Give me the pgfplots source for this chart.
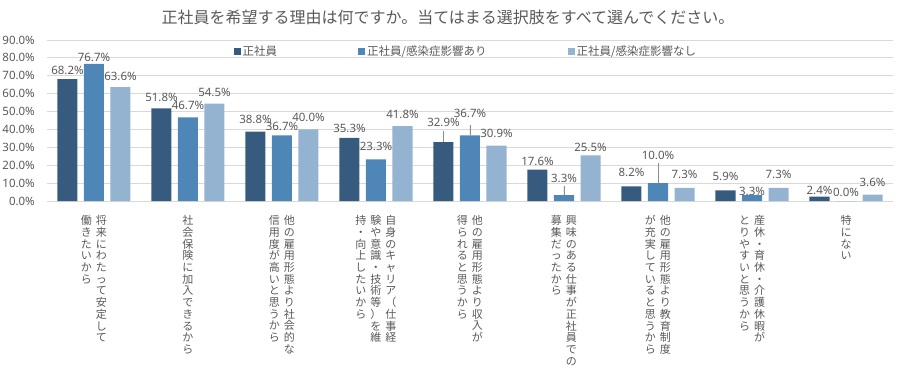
\documentclass[border=0pt]{standalone}
\usepackage{pgfplots}
\pgfplotsset{compat=1.18}
\usepackage{pgfplotstable}
\usepackage{fontspec}
\setmainfont{Noto Sans}
\newfontfamily\jp{Noto Sans CJK JP}
\definecolor{c1}{HTML}{375A7F}
\definecolor{c2}{HTML}{4E86B8}
\definecolor{c3}{HTML}{94B3D1}
\definecolor{tg}{HTML}{595959}
\definecolor{gl}{HTML}{D9D9D9}
\definecolor{ld}{HTML}{8C8C8C}

\ExplSyntaxOn
\NewDocumentCommand\vcol{m}{
  \vtop{\baselineskip=11.7pt \lineskiplimit=-20pt \lineskip=0pt
    \tl_map_inline:nn {#1} { \hbox_to_wd:nn {11pt} { \hss ##1 \hss } } }
}
\ExplSyntaxOff
\newcommand\vA[1]{\hbox{\vcol{#1}}}
\newcommand\vB[2]{\hbox{\vcol{#2}\hskip4pt\vcol{#1}}}
\newcommand\vC[3]{\hbox{\vcol{#3}\hskip4pt\vcol{#2}\hskip4pt\vcol{#1}}}

\pgfplotstableread{
x y off err
0 68.2 9 0
1 51.8 11 0
2 38.8 12 0
3 35.3 9 0
4 32.9 20 6
5 17.6 8.3 0
6 8.2 14 0
7 5.9 14 0
8 2.4 6 0
}\tA
\pgfplotstableread{
x y off err
0 76.7 6.5 0
1 46.7 12 0
2 36.7 9 0
3 23.3 13 0
4 36.7 22 6
5 3.3 17 5
6 10.0 28 11
7 3.3 4 0
8 0.0 9 0
}\tB
\pgfplotstableread{
x y off
0 63.6 11
1 54.5 11
2 40.0 12
3 41.8 11.6
4 30.9 12.7
5 25.5 7.7
6 7.3 14
7 7.3 14
8 3.6 12
}\tC

\begin{document}
\begin{tikzpicture}
\path[use as bounding box] (-47pt,-168pt) rectangle (857pt,201pt);
\begin{axis}[
  at={(0,0)}, anchor=south west,
  scale only axis, width=846pt, height=161pt,
  ybar, bar width=20pt,
  xmin=-0.5, xmax=8.5, ymin=0, ymax=90,
  /pgf/number format/assume math mode=true,
  xtick={0,...,8},
  xticklabels={
    {\vB{将来にわたって安定して}{働きたいから}},
    {\vA{社会保険に加入できるから}},
    {\vB{他の雇用形態より社会的な}{信用度が高いと思うから}},
    {\vC{自身のキャリア（仕事経}{験や意識・技術等）を維}{持・向上したいから}},
    {\vB{他の雇用形態より収入が}{得られると思うから}},
    {\vB{興味のある仕事が正社員での}{募集だったから}},
    {\vB{他の雇用形態より教育制度}{が充実していると思うから}},
    {\vB{産休・育休・介護休暇が}{とりやすいと思うから}},
    {\vA{特にない}}},
  xticklabel style={anchor=north, inner sep=0pt, yshift=-10pt, font=\jp\fontsize{11}{11.7}\selectfont, text=tg},
  ytick={0,10,...,90},
  yticklabel={\pgfmathprintnumber[fixed,fixed zerofill,precision=1]{\tick}\%},
  yticklabel style={anchor=east, inner sep=0pt, xshift=-12pt, font=\fontsize{11.5}{13}\selectfont, text=tg},
  ymajorgrids, grid style={gl, line width=0.8pt},
  axis line style={draw=none},
  tick style={draw=none},
  nodes near coords={\pgfmathprintnumber[fixed,fixed zerofill,precision=1]{\pgfplotspointmeta}\%},
  every node near coord/.append style={anchor=center, inner sep=0pt, font=\fontsize{11.5}{13}\selectfont, text=tg},
  title={\jp 正社員を希望する理由は何ですか。当てはまる選択肢をすべて選んでください。},
  title style={at={(0.474,1)}, anchor=center, yshift=17pt, inner sep=0pt, font=\fontsize{16}{18}\selectfont, text=tg},
  legend columns=3,
  legend style={at={(0.495,1)}, anchor=center, yshift=-11pt, draw=none, fill=none,
    font=\jp\fontsize{11.5}{13}\selectfont, text=tg,
    /tikz/every even column/.append style={column sep=79pt}},
  legend image code/.code={\fill[#1] (0pt,-3.5pt) rectangle (7pt,3.5pt);},
]
\addplot[fill=c1, draw=none, bar shift=-26.5pt,
  visualization depends on={\thisrow{off}\as\myoff},
  every node near coord/.append style={yshift=\myoff pt},
  error bars/.cd, y dir=plus, y explicit, error mark=none,
  error bar style={ld, line width=0.7pt}]
  table[x=x, y=y, y error=err]{\tA};
\addlegendentry{正社員}
\addplot[fill=c2, draw=none, bar shift=0pt,
  visualization depends on={\thisrow{off}\as\myoff},
  every node near coord/.append style={yshift=\myoff pt},
  error bars/.cd, y dir=plus, y explicit, error mark=none,
  error bar style={ld, line width=0.7pt}]
  table[x=x, y=y, y error=err]{\tB};
\addlegendentry{正社員/感染症影響あり}
\addplot[fill=c3, draw=none, bar shift=26.5pt,
  visualization depends on={\thisrow{off}\as\myoff},
  every node near coord/.append style={yshift=\myoff pt}]
  table[x=x, y=y]{\tC};
\addlegendentry{正社員/感染症影響なし}
\end{axis}
\end{tikzpicture}
\end{document}
